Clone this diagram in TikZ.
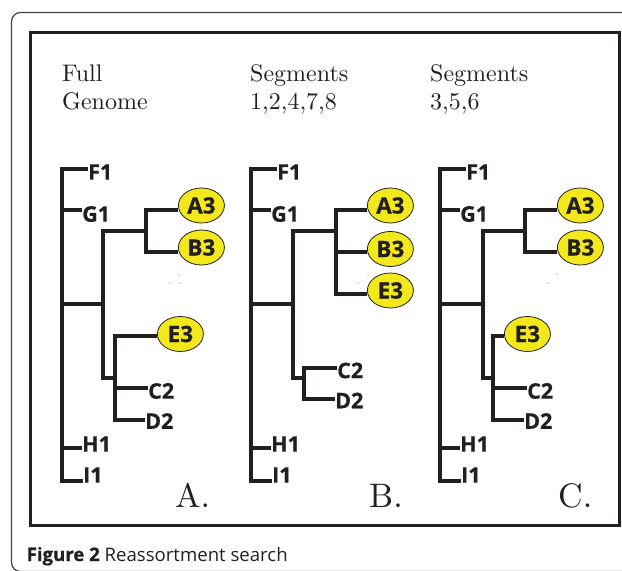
\documentclass[tikz,border=0pt]{standalone}
\usepackage{fontspec}
\usetikzlibrary{shapes.geometric}
\newfontfamily\lblfont{Open Sans}
\newfontfamily\lblheavy[BoldFeatures={FakeBold=0.6}]{Open Sans}
\newfontfamily\cmten[Extension=.otf]{lmroman10-regular}
\definecolor{ink}{HTML}{231F20}
\definecolor{leafyellow}{HTML}{F2E81C}
\definecolor{speck}{HTML}{8C7A2A}
\begin{document}
\begin{tikzpicture}[x=1pt,y=-1pt,
  br/.style={line width=3.2pt, draw=ink, line join=miter, line cap=butt},
  lbl/.style={font=\lblheavy\bfseries\fontsize{21.5}{24}\selectfont, text=ink, inner sep=0pt, anchor=west},
  leaf/.style={ellipse, draw=ink, line width=0.8pt, fill=leafyellow, minimum width=46pt, minimum height=35pt, inner sep=0pt, anchor=west, font=\lblheavy\bfseries\fontsize{22.5}{24}\selectfont, text=ink},
  hdr/.style={font=\cmten\fontsize{24}{28}\selectfont, inner sep=0pt, anchor=base west, text=ink},
  big/.style={font=\cmten\fontsize{34}{40}\selectfont, inner sep=0pt, anchor=base west, text=ink},
  dotspeck/.style={fill=speck, draw=none}]
\useasboundingbox (0,0) rectangle (622,571);
\begin{scope}
\clip (0,0) rectangle (622,571);
\draw[line width=1.2pt, draw=ink!85, rounded corners=9pt] (11.5,12.5) rectangle (640,571.5);
\end{scope}
\draw[line width=3pt, draw=ink] (30.5,32) rectangle (619,525);

% headers
\node[hdr] (hA1) at (62,81) {Full};
\node[hdr] (hA2) at (62,109) {Genome};
\node[hdr] (hB1) at (250,81) {Segments};
\node[hdr] (hB2) at (250,109) {1,2,4,7,8};
\node[hdr] (hC1) at (430,81) {Segments};
\node[hdr] (hC2) at (430,109) {3,5,6};

% ---------- Tree A ----------
\coordinate (aR) at (62,304);
\coordinate (aN) at (103,304);
\coordinate (aU) at (146,231);
\coordinate (aL) at (115,378);
\coordinate (aF1p) at (88,169);
\coordinate (aG1p) at (82,210);
\coordinate (aH1p) at (82,448);
\coordinate (aI1p) at (83,481);
\coordinate (aA3p) at (178,210);
\coordinate (aB3p) at (178,252);
\coordinate (aE3p) at (157,336);
\coordinate (aC2p) at (148,388);
\coordinate (aD2p) at (145,420);
\draw[br] (aF1p) -| (aR) |- (aI1p);
\draw[br] (aR |- aG1p) -- (aG1p);
\draw[br] (aR |- aH1p) -- (aH1p);
\draw[br] (aR) -- (aN);
\draw[br] (aU) -| (aN) |- (aL);
\draw[br] (aA3p) -| (aU) |- (aB3p);
\draw[br] (aE3p) -| (aL) |- (aD2p);
\draw[br] (aL |- aC2p) -- (aC2p);
\node[lbl, yshift=-3pt] (aF1) at (aF1p) {F1};
\node[lbl, yshift=-4pt] (aG1) at (aG1p) {G1};
\node[lbl, yshift=4pt] (aH1) at (aH1p) {H1};
\node[lbl, yshift=6pt] (aI1) at (aI1p) {I1};
\node[lbl, yshift=-3pt] (aC2) at (aC2p) {C2};
\node[lbl, yshift=-1pt] (aD2) at (aD2p) {D2};
\node[leaf, yshift=4.5pt] (aA3) at (aA3p) {A3};
\node[leaf, yshift=4.5pt] (aB3) at (aB3p) {B3};
\node[leaf, yshift=2pt] (aE3) at (aE3p) {E3};
\fill[dotspeck] (170,283) circle (0.7) (179,275) circle (0.7) (180,283) circle (0.7);
\node[big] (labA) at (175,507) {A.};

% ---------- Tree B ----------
\coordinate (bR) at (251,304);
\coordinate (bN) at (293,304);
\coordinate (bU) at (336,231);
\coordinate (bL) at (304,378);
\coordinate (bF1p) at (277,169);
\coordinate (bG1p) at (271,210);
\coordinate (bH1p) at (271,448);
\coordinate (bI1p) at (272,481);
\coordinate (bA3p) at (367,210);
\coordinate (bB3p) at (367,252);
\coordinate (bE3p) at (367,294);
\coordinate (bC2p) at (337,368);
\coordinate (bD2p) at (335,399);
\draw[br] (bF1p) -| (bR) |- (bI1p);
\draw[br] (bR |- bG1p) -- (bG1p);
\draw[br] (bR |- bH1p) -- (bH1p);
\draw[br] (bR) -- (bN);
\draw[br] (bU) -| (bN) |- (bL);
\draw[br] (bA3p) -| (bU) |- (bE3p);
\draw[br] (bU |- bB3p) -- (bB3p);
\draw[br] (bC2p) -| (bL) |- (bD2p);
\node[lbl, yshift=-3pt] (bF1) at (bF1p) {F1};
\node[lbl, yshift=-4pt] (bG1) at (bG1p) {G1};
\node[lbl, yshift=4pt] (bH1) at (bH1p) {H1};
\node[lbl, yshift=6pt] (bI1) at (bI1p) {I1};
\node[lbl, yshift=-2.5pt] (bC2) at (bC2p) {C2};
\node[lbl, yshift=-1.5pt] (bD2) at (bD2p) {D2};
\node[leaf, yshift=4.5pt] (bA3) at (bA3p) {A3};
\node[leaf, yshift=3pt] (bB3) at (bB3p) {B3};
\node[leaf, yshift=3.5pt] (bE3) at (bE3p) {E3};
\fill[dotspeck] (358,283) circle (0.7) (368,275) circle (0.7);
\node[big] (labB) at (369,507) {B.};

% ---------- Tree C ----------
\coordinate (cR) at (440,304);
\coordinate (cN) at (483,304);
\coordinate (cU) at (525,231);
\coordinate (cL) at (493,378);
\coordinate (cF1p) at (466,169);
\coordinate (cG1p) at (460,210);
\coordinate (cH1p) at (460,448);
\coordinate (cI1p) at (461,481);
\coordinate (cA3p) at (557,210);
\coordinate (cB3p) at (557,252);
\coordinate (cE3p) at (504,336);
\coordinate (cC2p) at (527,388);
\coordinate (cD2p) at (524,420);
\draw[br] (cF1p) -| (cR) |- (cI1p);
\draw[br] (cR |- cG1p) -- (cG1p);
\draw[br] (cR |- cH1p) -- (cH1p);
\draw[br] (cR) -- (cN);
\draw[br] (cU) -| (cN) |- (cL);
\draw[br] (cA3p) -| (cU) |- (cB3p);
\draw[br] (cE3p) -| (cL) |- (cD2p);
\draw[br] (cL |- cC2p) -- (cC2p);
\node[lbl, yshift=-3pt] (cF1) at (cF1p) {F1};
\node[lbl, yshift=-4pt] (cG1) at (cG1p) {G1};
\node[lbl, yshift=4pt] (cH1) at (cH1p) {H1};
\node[lbl, yshift=6pt] (cI1) at (cI1p) {I1};
\node[lbl, yshift=-3pt] (cC2) at (cC2p) {C2};
\node[lbl, yshift=-1pt] (cD2) at (cD2p) {D2};
\node[leaf, yshift=4.5pt] (cA3) at (cA3p) {A3};
\node[leaf, yshift=4.5pt] (cB3) at (cB3p) {B3};
\node[leaf, yshift=2pt] (cE3) at (cE3p) {E3};
\fill[dotspeck] (548,283) circle (0.7) (557,274) circle (0.7);
\node[big] (labC) at (558,507) {C.};

% caption
\node[inner sep=0pt, anchor=base west, font=\lblfont\fontsize{18.6}{21}\selectfont, text=ink] (cap) at (26.5,561) {{\lblheavy\bfseries Figure 2} Reassortment search};
\end{tikzpicture}
\end{document}
